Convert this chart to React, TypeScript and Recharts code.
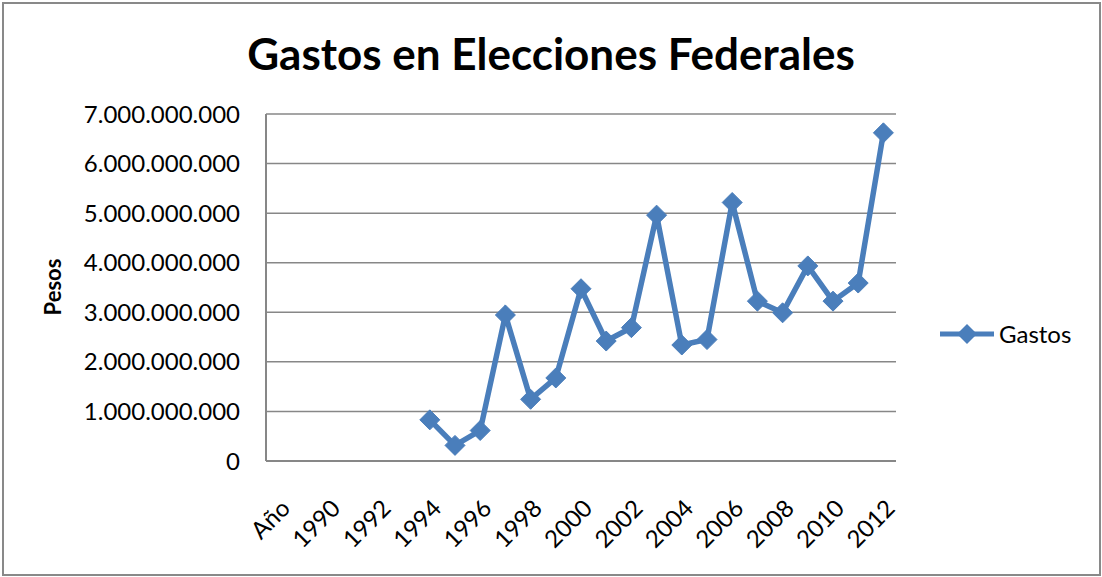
import React from "react";
import { LineChart, Line, XAxis, YAxis, CartesianGrid, Legend } from "recharts";

// categories on the x axis (only every other label is shown)
const categories = [
  "Año", "1989", "1990", "1991", "1992", "1993", "1994", "1995", "1996",
  "1997", "1998", "1999", "2000", "2001", "2002", "2003", "2004", "2005",
  "2006", "2007", "2008", "2009", "2010", "2011", "2012",
];

// gastos in pesos, null where there is no data
const gastos = [
  null, null, null, null, null, null,
  830000000, 315000000, 615000000, 2945000000, 1245000000, 1675000000,
  3475000000, 2420000000, 2690000000, 4960000000, 2340000000, 2450000000,
  5215000000, 3225000000, 2990000000, 3935000000, 3225000000, 3590000000,
  6620000000,
];

const yTicks = [0, 1000000000, 2000000000, 3000000000, 4000000000, 5000000000, 6000000000, 7000000000];

const data = categories.map((c, i) => ({ year: c, gastos: gastos[i] }));

const BLUE = "#4a7ebb";
const GRID = "#878787";
const FONT = "Lato, 'Open Sans', sans-serif";

const fmt = (v: number) => String(v).replace(/\B(?=(\d{3})+(?!\d))/g, ".");

const Diamond = (props: any) => {
  const { cx, cy } = props;
  if (cx == null || cy == null || props.value == null) return null;
  const r = 10;
  return (
    <polygon
      points={`${cx},${cy - r} ${cx + r},${cy} ${cx},${cy + r} ${cx - r},${cy}`}
      fill={BLUE}
      stroke={BLUE}
      strokeWidth={1}
    />
  );
};

const XTick = (props: any) => {
  const { x, y, payload } = props;
  const px = x + 7;
  const py = y + 41;
  return (
    <text
      x={px}
      y={py}
      dy="0.35em"
      transform={`rotate(-45 ${px} ${py})`}
      textAnchor="end"
      fill="#000"
      fontSize={24}
      fontFamily={FONT}
    >
      {payload.value}
    </text>
  );
};

const LegendContent = () => (
  <div style={{ display: "flex", alignItems: "center", fontFamily: FONT, fontSize: 24, color: "#000" }}>
    <svg width={58} height={22}>
      <line x1={2} y1={11} x2={56} y2={11} stroke={BLUE} strokeWidth={5} />
      <polygon points="29,1 39,11 29,21 19,11" fill={BLUE} />
    </svg>
    <span style={{ marginLeft: 3 }}>Gastos</span>
  </div>
);

export default function App() {
  return (
    <div style={{ position: "absolute", left: 0, top: 0, width: 1102, height: 577, background: "#fff" }}>
      <div
        style={{
          position: "absolute",
          left: 2,
          top: 2,
          width: 1099,
          height: 574,
          border: "2px solid #898989",
          boxSizing: "border-box",
        }}
      />
      <div style={{ position: "absolute", left: 0, top: 0 }}>
        <LineChart width={1102} height={577} data={data} margin={{ top: 114, right: 206, left: 0, bottom: 0 }}>
          <CartesianGrid vertical={false} stroke={GRID} strokeWidth={1.5} />
          <XAxis
            dataKey="year"
            interval={1}
            height={116}
            tick={<XTick />}
            tickLine={false}
            tickSize={0}
            axisLine={{ stroke: GRID, strokeWidth: 2 }}
            padding={{ left: 12.6, right: 12.6 }}
          />
          <YAxis
            width={266}
            domain={[0, 7000000000]}
            ticks={yTicks}
            tickFormatter={fmt}
            tickLine={false}
            tickSize={0}
            tickMargin={26}
            axisLine={{ stroke: GRID, strokeWidth: 2 }}
            tick={{ fill: "#000", fontSize: 24, fontFamily: FONT }}
          />
          <Legend
            layout="horizontal"
            verticalAlign="middle"
            content={<LegendContent />}
            wrapperStyle={{ position: "absolute", left: 938, top: 319, width: 160 }}
          />
          <Line
            type="linear"
            dataKey="gastos"
            name="Gastos"
            stroke={BLUE}
            strokeWidth={5.5}
            dot={<Diamond />}
            activeDot={false}
            connectNulls={false}
            isAnimationActive={false}
          />
        </LineChart>
      </div>
      <svg
        width={1102}
        height={577}
        style={{ position: "absolute", left: 0, top: 0, pointerEvents: "none" }}
      >
        <text x={551} y={70} textAnchor="middle" fontFamily={FONT} fontWeight={700} fontSize={44} fill="#000">
          Gastos en Elecciones Federales
        </text>
        <text
          x={61}
          y={287}
          textAnchor="middle"
          transform="rotate(-90 61 287)"
          fontFamily={FONT}
          fontWeight={700}
          fontSize={22}
          fill="#000"
        >
          Pesos
        </text>
      </svg>
    </div>
  );
}
